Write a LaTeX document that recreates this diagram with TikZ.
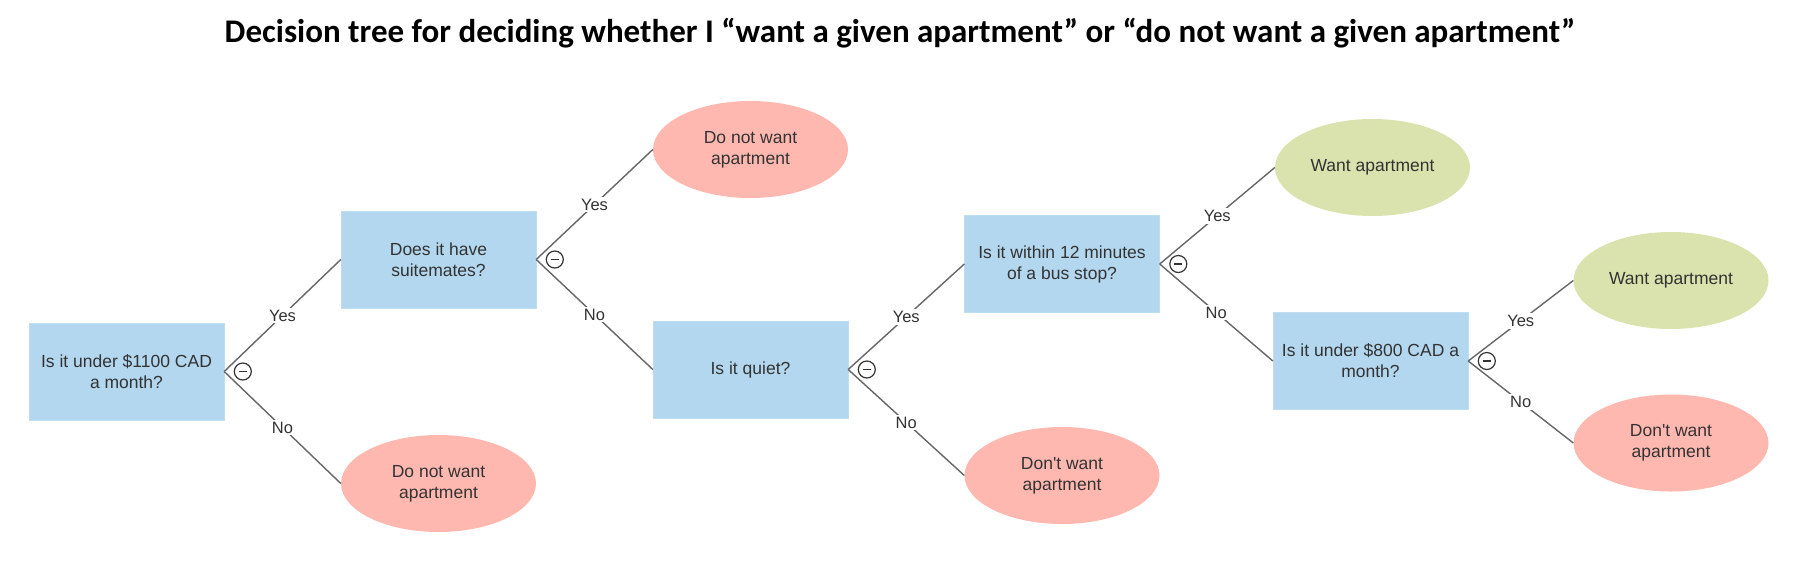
\documentclass[tikz,border=0pt]{standalone}
\usepackage{fontspec}
\newfontfamily\nodefont{Liberation Sans}
\newfontfamily\titlefont{Carlito}
\usetikzlibrary{shapes.geometric,positioning}

\definecolor{qblue}{HTML}{B3D7EE}
\definecolor{nopink}{HTML}{FFB8B0}
\definecolor{yesgreen}{HTML}{DAE3AE}
\definecolor{inkgray}{HTML}{333333}
\definecolor{linegray}{HTML}{666666}

\tikzset{
  question/.style={rectangle, fill=qblue, draw=qblue!85!white, minimum width=195, minimum height=97,
    align=center, font=\nodefont\fontsize{17.5}{21}\selectfont, text=inkgray},
  nowant/.style={ellipse, fill=nopink, minimum width=195, minimum height=97, inner sep=0,
    align=center, font=\nodefont\fontsize{17.5}{21}\selectfont, text=inkgray},
  yeswant/.style={nowant, fill=yesgreen},
  edge/.style={draw=linegray, line width=1.4},
  lbl/.style={fill=white, inner sep=2, font=\nodefont\fontsize{16.5}{19}\selectfont, text=inkgray},
  splitmark/.style={circle, draw=inkgray, fill=white, line width=1.2, minimum size=17, inner sep=0,
    path picture={\draw[inkgray, line width=1.3] ([xshift=-4]path picture bounding box.center) -- ([xshift=4]path picture bounding box.center);}}
}

\begin{document}
\begin{tikzpicture}[x=1pt, y=-1pt]
\useasboundingbox (0,0) rectangle (1801,574);

\node (Title) at (900,33) {\titlefont\bfseries\fontsize{33}{38}\selectfont Decision tree for deciding whether I “want a given apartment” or “do not want a given apartment”};

% questions
\node[question] (Q1) at (126.5,371.5) {Is it under \$1100 CAD\\a month?};
\node[question] (Q2) at (438.5,259.5) {Does it have\\suitemates?};
\node[question] (Q3) at (750.5,369.5) {Is it quiet?};
\node[question] (Q4) at (1062,264) {Is it within 12 minutes\\of a bus stop?};
\node[question] (Q5) at (1370.5,361) {Is it under \$800 CAD a\\month?};

% answers
\node[nowant] (No1) at (438.5,483.5) {Do not want\\apartment};
\node[nowant] (No2) at (750.5,149.5) {Do not want\\apartment};
\node[nowant] (No3) at (1062,475.5) {Don't want\\apartment};
\node[yeswant] (Yes1) at (1372.5,167.5) {Want apartment};
\node[yeswant] (Yes2) at (1671,280.5) {Want apartment};
\node[nowant] (No4) at (1671,443) {Don't want\\apartment};

% branches
\draw[edge] (Q1.east) -- node[lbl] {Yes} (Q2.west);
\draw[edge] (Q1.east) -- node[lbl] {No} (No1.west);
\draw[edge] (Q2.east) -- node[lbl] {Yes} (No2.west);
\draw[edge] (Q2.east) -- node[lbl] {No} (Q3.west);
\draw[edge] (Q3.east) -- node[lbl] {Yes} (Q4.west);
\draw[edge] (Q3.east) -- node[lbl] {No} (No3.west);
\draw[edge] (Q4.east) -- node[lbl] {Yes} (Yes1.west);
\draw[edge] (Q4.east) -- node[lbl] {No} (Q5.west);
\draw[edge] (Q5.east) -- node[lbl] {Yes} (Yes2.west);
\draw[edge] (Q5.east) -- node[lbl] {No} (No4.west);

% collapse markers
\node[splitmark, right=9.5 of Q1.east] (M1) {};
\node[splitmark, right=9.5 of Q2.east] (M2) {};
\node[splitmark, right=9.5 of Q3.east] (M3) {};
\node[splitmark, right=9.5 of Q4.east] (M4) {};
\node[splitmark, right=9.5 of Q5.east] (M5) {};
\end{tikzpicture}
\end{document}
